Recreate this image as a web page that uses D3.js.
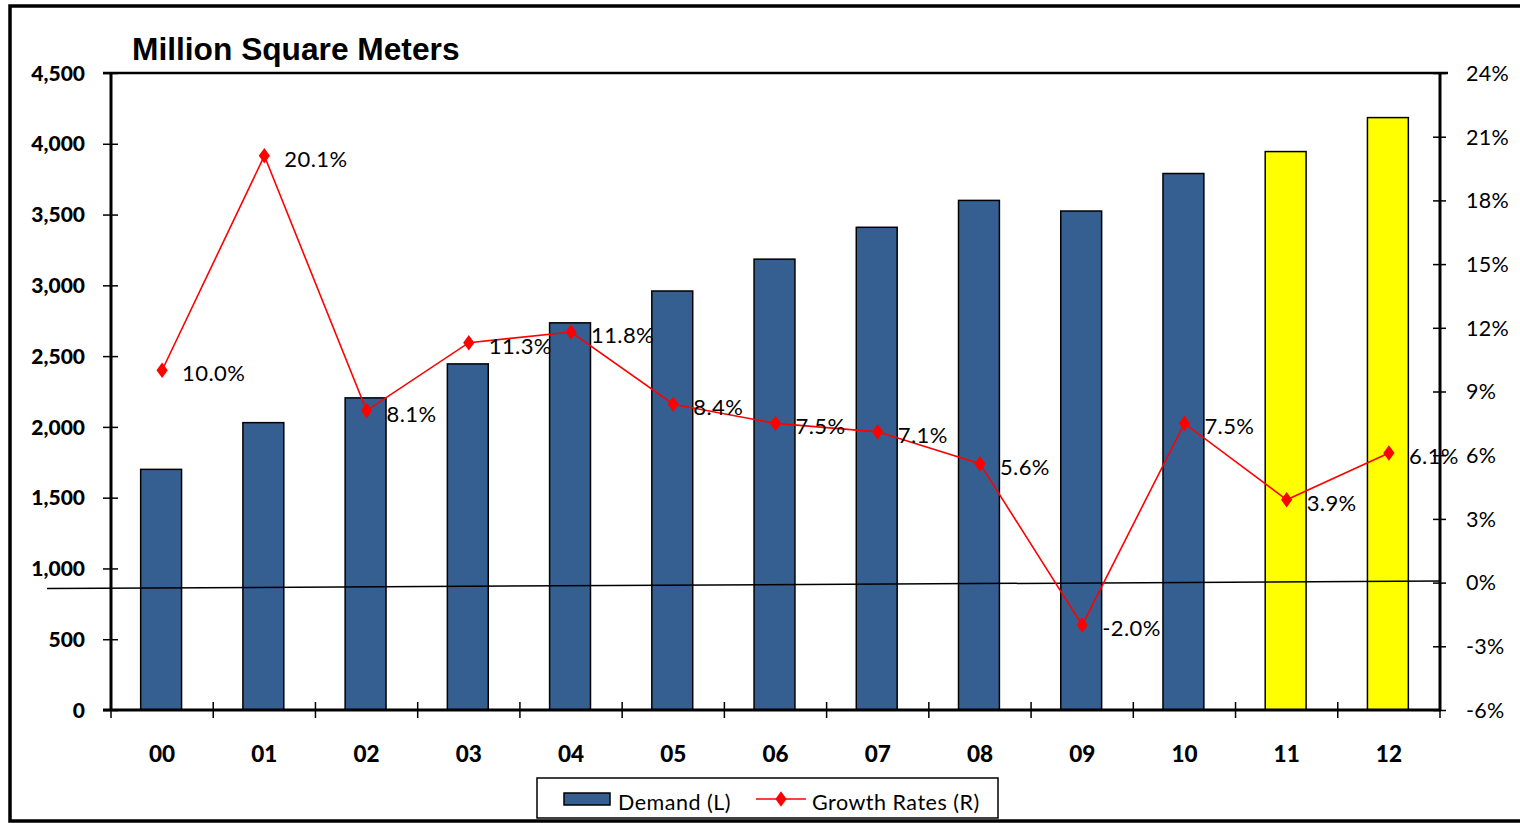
<!DOCTYPE html>
<html>
<head>
<meta charset="utf-8">
<script src="https://cdn.jsdelivr.net/npm/d3@7/dist/d3.min.js"></script>
<style>
  html, body { margin: 0; padding: 0; background: #fff; }
  svg { display: block; }
</style>
</head>
<body>
<svg id="chart" width="1520" height="823"></svg>
<script>
// Office space demand by year, with year-on-year growth
const years = ["00","01","02","03","04","05","06","07","08","09","10","11","12"];
const demand = [1700, 2030, 2205, 2445, 2735, 2960, 3185, 3410, 3600, 3525, 3790, 3945, 4185];
const growth = [10.0, 20.1, 8.1, 11.3, 11.8, 8.4, 7.5, 7.1, 5.6, -2.0, 7.5, 3.9, 6.1];
const forecastYears = ["11","12"];
const leftTicks = [0, 500, 1000, 1500, 2000, 2500, 3000, 3500, 4000, 4500];
const rightTicks = [-6, -3, 0, 3, 6, 9, 12, 15, 18, 21, 24];

const svg = d3.select("#chart");
const W = 1520, H = 823;
const plot = { left: 111, right: 1440, top: 73, bottom: 710 };

const labelFont = "Lato, 'Open Sans', sans-serif";
const BLUE = "#365F91", YELLOW = "#FFFF00", RED = "#FF0000";

// Outer frame
svg.append("rect")
  .attr("x", 10).attr("y", 6)
  .attr("width", W + 20).attr("height", 815)
  .attr("fill", "none").attr("stroke", "#000").attr("stroke-width", 3.5);

const x = d3.scaleBand().domain(years).range([plot.left, plot.right]).padding(0);
const yL = d3.scaleLinear().domain([0, 4500]).range([plot.bottom, plot.top]);
const yR = d3.scaleLinear().domain([-6, 24]).range([plot.bottom, plot.top]);
const barW = x.bandwidth() * 0.4;

// Bars
svg.append("g").selectAll("rect")
  .data(years)
  .join("rect")
  .attr("x", (d) => x(d) + x.bandwidth() / 2 - barW / 2 - 1)
  .attr("y", (d, i) => yL(demand[i]))
  .attr("width", barW)
  .attr("height", (d, i) => yL(0) - yL(demand[i]))
  .attr("fill", (d) => forecastYears.includes(d) ? YELLOW : BLUE)
  .attr("stroke", "#000")
  .attr("stroke-width", 1.5);

// Zero reference line for the growth axis
svg.append("line")
  .attr("x1", plot.left - 64).attr("y1", yR(0) + 6)
  .attr("x2", plot.right).attr("y2", yR(0) - 1.5)
  .attr("stroke", "#000").attr("stroke-width", 1.5);

// Plot frame: top edge
svg.append("line")
  .attr("x1", plot.left - 8).attr("x2", plot.right + 8)
  .attr("y1", plot.top).attr("y2", plot.top)
  .attr("stroke", "#000").attr("stroke-width", 2.5);

// Left axis
const gL = svg.append("g").attr("transform", `translate(${plot.left},0)`)
  .call(d3.axisLeft(yL).tickValues(leftTicks).tickFormat(d3.format(",")).tickSize(8).tickPadding(0));
gL.select(".domain").remove();
gL.append("line").attr("x1", 0).attr("x2", 0).attr("y1", plot.top).attr("y2", plot.bottom + 1)
  .attr("stroke", "#000").attr("stroke-width", 3);
gL.selectAll(".tick line").attr("x1", -8).attr("x2", 7).attr("stroke", "#000").attr("stroke-width", 1.5);
gL.selectAll(".tick text")
  .attr("x", -26).attr("dy", "0.34em")
  .attr("fill", "#000")
  .style("font-family", labelFont).style("font-weight", "900").style("font-size", "21px");

// Right axis
const gR = svg.append("g").attr("transform", `translate(${plot.right},0)`)
  .call(d3.axisRight(yR).tickValues(rightTicks).tickFormat((d) => d + "%").tickSize(8).tickPadding(0));
gR.select(".domain").remove();
gR.append("line").attr("x1", 0).attr("x2", 0).attr("y1", plot.top).attr("y2", plot.bottom + 1)
  .attr("stroke", "#000").attr("stroke-width", 3);
gR.selectAll(".tick line").attr("x1", -7).attr("x2", 6).attr("stroke", "#000").attr("stroke-width", 1.5);
gR.selectAll(".tick text")
  .attr("x", 26).attr("dy", "0.34em")
  .attr("fill", "#000")
  .style("font-family", labelFont).style("font-size", "21.5px").style("letter-spacing", "0.3px");

// Bottom axis: category labels, ticks on category boundaries
const gB = svg.append("g").attr("transform", `translate(0,${plot.bottom})`)
  .call(d3.axisBottom(x).tickSize(0).tickPadding(0));
gB.select(".domain").remove();
gB.append("line").attr("x1", plot.left - 8).attr("x2", plot.right + 1).attr("y1", 0).attr("y2", 0)
  .attr("stroke", "#000").attr("stroke-width", 3);
gB.selectAll(".tick text")
  .attr("y", 52).attr("dy", 0)
  .attr("fill", "#000")
  .style("font-family", labelFont).style("font-weight", "900").style("font-size", "22.5px");
const bounds = years.map((d) => x(d)).concat([plot.right]);
gB.selectAll("line.bound").data(bounds).join("line").attr("class", "bound")
  .attr("x1", (d) => d).attr("x2", (d) => d).attr("y1", -8).attr("y2", 8)
  .attr("stroke", "#000").attr("stroke-width", 1.5);

// Growth line
const cx = (d) => x(d) + x.bandwidth() / 2;
const line = d3.line().x((d, i) => cx(years[i])).y((d) => yR(d));
svg.append("path").datum(growth)
  .attr("d", line).attr("fill", "none").attr("stroke", RED).attr("stroke-width", 1.6);

const diamond = d3.symbol().type(d3.symbolDiamond).size(70);
svg.append("g").selectAll("path")
  .data(growth)
  .join("path")
  .attr("d", diamond)
  .attr("transform", (d, i) => `translate(${cx(years[i])},${yR(d)}) scale(1.25,1)`)
  .attr("fill", RED);

// Data labels
svg.append("g").selectAll("text")
  .data(growth)
  .join("text")
  .attr("x", (d, i) => cx(years[i]) + 20)
  .attr("y", (d) => yR(d) + 11)
  .attr("fill", "#000")
  .style("font-family", labelFont).style("font-size", "22px").style("letter-spacing", "0.4px")
  .text((d) => d.toFixed(1) + "%");

// Title
svg.append("text")
  .attr("x", 132).attr("y", 60)
  .attr("fill", "#000")
  .style("font-family", "'Liberation Sans', Arial, sans-serif")
  .style("font-weight", "bold").style("font-size", "31.7px")
  .text("Million Square Meters");

// Legend
const lg = svg.append("g");
lg.append("rect").attr("x", 537).attr("y", 778).attr("width", 461).attr("height", 40)
  .attr("fill", "#fff").attr("stroke", "#000").attr("stroke-width", 1.5);
lg.append("rect").attr("x", 564).attr("y", 793).attr("width", 46).attr("height", 12)
  .attr("fill", BLUE).attr("stroke", "#000").attr("stroke-width", 1.5);
lg.append("text").attr("x", 618).attr("y", 810)
  .attr("fill", "#000")
  .style("font-family", labelFont).style("font-size", "21.5px").style("letter-spacing", "0.5px")
  .text("Demand (L)");
lg.append("line").attr("x1", 756).attr("x2", 806).attr("y1", 799).attr("y2", 799)
  .attr("stroke", RED).attr("stroke-width", 1.6);
lg.append("path").attr("d", diamond).attr("transform", "translate(781,799) scale(1.25,1)").attr("fill", RED);
lg.append("text").attr("x", 812).attr("y", 810)
  .attr("fill", "#000")
  .style("font-family", labelFont).style("font-size", "21.5px").style("letter-spacing", "0.5px")
  .text("Growth Rates (R)");
</script>
</body>
</html>
